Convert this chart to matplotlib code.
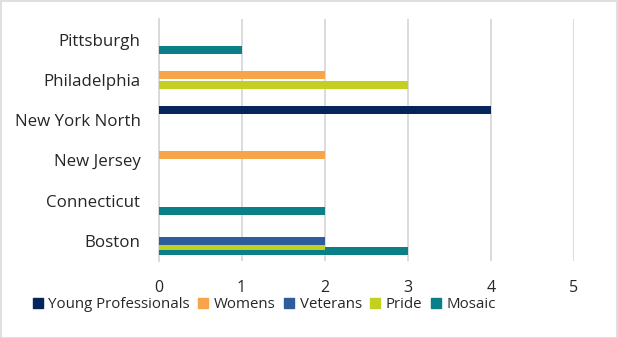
import matplotlib
matplotlib.use("Agg")
import matplotlib.pyplot as plt
from matplotlib.lines import Line2D
from matplotlib.patches import Rectangle
import numpy as np

categories = ["Boston", "Connecticut", "New Jersey", "New York North", "Philadelphia", "Pittsburgh"]
series_names = ["Young Professionals", "Womens", "Veterans", "Pride", "Mosaic"]
young_professionals = [0, 0, 0, 4, 0, 0]
womens = [0, 0, 2, 0, 2, 0]
veterans = [2, 0, 0, 0, 0, 0]
pride = [2, 0, 0, 0, 3, 0]
mosaic = [3, 2, 0, 0, 0, 1]
x_ticks = [0, 1, 2, 3, 4, 5]

colors = ["#06265a", "#f7a54b", "#2f5c9a", "#c2d11f", "#0a7f87"]
series = [young_professionals, womens, veterans, pride, mosaic]

plt.rcParams['font.family'] = ['Open Sans', 'DejaVu Sans']

fig = plt.figure(figsize=(6.18, 3.38), dpi=100)
ax = fig.add_axes([158.5/618, 1-261/338, (574-158.5)/618, (261-19.5)/338])

y = np.arange(len(categories))
slot = 0.124
height = 0.2
offsets = [2*slot, slot, 0, -slot, -2*slot]
for i, (name, vals, c, off) in enumerate(zip(series_names, series, colors, offsets)):
    ax.barh(y + off, vals, height=height, color=c, zorder=10 - i, label=name)

ax.set_xlim(0, 5)
ax.set_ylim(-0.5, len(categories) - 0.5)
ax.set_xticks(x_ticks)
ax.set_yticks(y)
ax.set_yticklabels(categories)
ax.xaxis.grid(True, color="#d9d9d9", linewidth=1.3, zorder=0)
ax.set_axisbelow(True)
for s in ["top", "right", "bottom"]:
    ax.spines[s].set_visible(False)
ax.spines["left"].set_color("#d9d9d9")
ax.spines["left"].set_linewidth(1.3)
ax.tick_params(axis="both", length=0, colors="#262626")
ax.tick_params(axis="y", pad=13, labelsize=12.2)
ax.tick_params(axis="x", pad=13.5, labelsize=11.5)

handles = [Line2D([0], [0], marker="s", linestyle="", markersize=6.5, markerfacecolor=c, markeredgecolor=c) for c in colors]
fig.legend(handles, series_names, loc="center", bbox_to_anchor=(264.5/618, 1-304.5/338), ncol=5,
           frameon=False, fontsize=10.8, handlelength=0.6, handletextpad=0.4, columnspacing=0.6,
           labelcolor="#262626")

fig.patches.append(Rectangle((0.5/618, 0.5/338), 1-1.5/618, 1-1.5/338, transform=fig.transFigure,
                             fill=False, edgecolor="#d9d9d9", linewidth=1.2))

fig.savefig("out.png", dpi=100)
